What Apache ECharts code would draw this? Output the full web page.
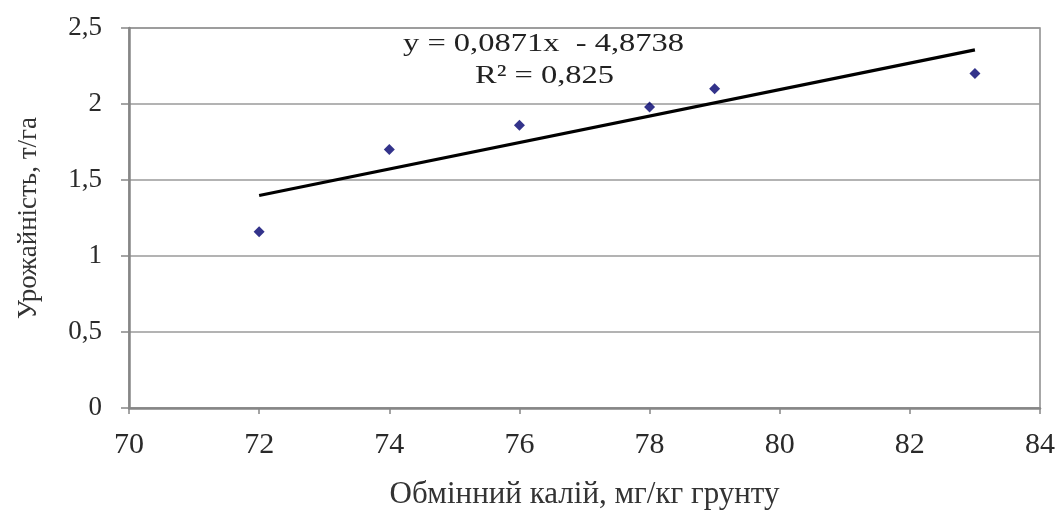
<!DOCTYPE html>
<html><head><meta charset="utf-8">
<script src="https://cdn.jsdelivr.net/npm/echarts@6/dist/echarts.min.js"></script>
<style>html,body{margin:0;padding:0;background:#fff}#c{width:1060px;height:511px}</style>
</head><body><div id="c"></div>
<script>
var potassium = [72, 74, 76, 78, 79, 83];
var yieldVals = [1.16, 1.70, 1.86, 1.98, 2.10, 2.20];
var trendX = [72, 83];
var trendY = [1.398, 2.356];
var equationText = 'y = 0,0871x  - 4,8738';
var r2Text = 'R² = 0,825';
var xTitle = 'Обмінний калій, мг/кг грунту';
var yTitle = 'Урожайність, т/га';

var font = '"Liberation Serif", "Times New Roman", serif';
var chart = echarts.init(document.getElementById('c'), null, {renderer: 'canvas'});
function fmt(v){ return String(v).replace('.', ','); }
chart.setOption({
  animation: false,
  backgroundColor: '#fff',
  grid: {left: 129, right: 20, top: 28, bottom: 103, containLabel: false, outerBoundsMode: 'none',
         show: true, borderColor: '#8a8a8a', borderWidth: 1.5},
  xAxis: {
    type: 'value', min: 70, max: 84, interval: 2,
    name: xTitle, nameLocation: 'middle', nameGap: 71,
    nameTextStyle: {fontFamily: font, fontSize: 31, color: '#333'},
    axisLine: {show: true, lineStyle: {color: '#868686', width: 2.5}},
    axisTick: {show: true, length: 6, lineStyle: {color: '#868686', width: 1.5}},
    axisLabel: {fontFamily: font, fontSize: 30, color: '#2a2a2a', margin: 22},
    splitLine: {show: false}
  },
  yAxis: {
    type: 'value', min: 0, max: 2.5, interval: 0.5,
    name: yTitle, nameLocation: 'middle', nameGap: 87, nameRotate: 90,
    nameTextStyle: {fontFamily: font, fontSize: 27, color: '#333'},
    axisLine: {show: true, lineStyle: {color: '#868686', width: 2.5}},
    axisTick: {show: true, length: 8, lineStyle: {color: '#868686', width: 1.5}},
    axisLabel: {fontFamily: font, fontSize: 27, color: '#2a2a2a', margin: 27, formatter: fmt},
    splitLine: {show: true, lineStyle: {color: '#9a9a9a', width: 1.5}}
  },
  series: [
    {
      type: 'line', data: trendX.map(function(x, i){ return [x, trendY[i]]; }),
      symbol: 'none', lineStyle: {color: '#000', width: 3.2}, z: 2
    },
    {
      type: 'scatter', data: potassium.map(function(x, i){ return [x, yieldVals[i]]; }),
      symbol: 'diamond', symbolSize: [11, 11], itemStyle: {color: '#00006e'}, z: 3
    }
  ],
  graphic: [
    {type: 'text', x: 403, y: 31, scaleX: 1.25, style: {text: equationText, font: '26px ' + font, fill: '#222'}},
    {type: 'text', x: 475, y: 63, scaleX: 1.25, style: {text: r2Text, font: '26px ' + font, fill: '#222'}}
  ]
});
</script></body></html>
